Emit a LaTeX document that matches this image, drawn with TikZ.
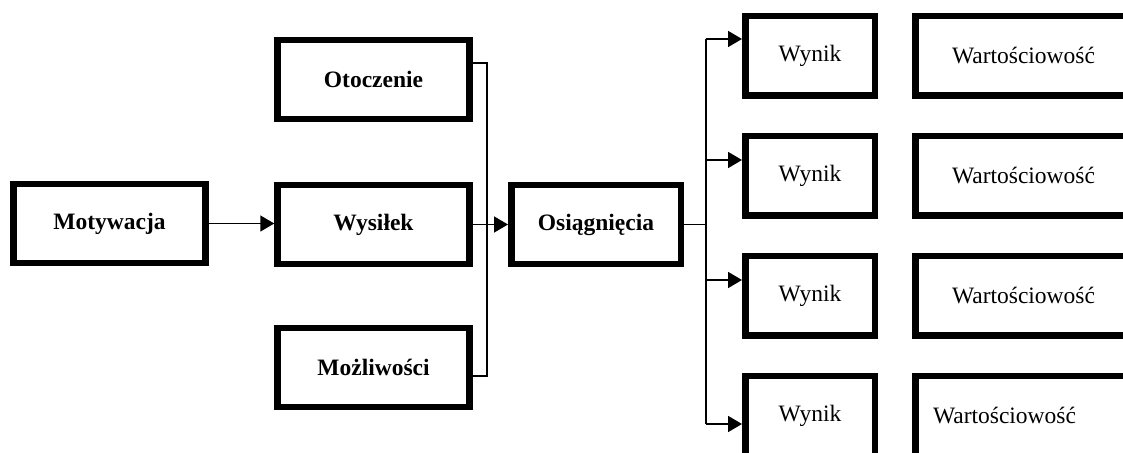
\documentclass[tikz,border=0pt]{standalone}
\usepackage{fontspec}
\setmainfont{Liberation Serif}
\usetikzlibrary{arrows.meta,calc}
\tikzset{
  box/.style={draw, line width=6.5pt, inner sep=0pt, minimum width=192pt, minimum height=79pt,
    font=\fontsize{23.5}{28}\selectfont\bfseries},
  outbox/.style={draw, line width=6.5pt, inner sep=0pt, minimum width=129.5pt, minimum height=79.5pt,
    font=\fontsize{23.5}{28}\selectfont},
  valbox/.style={outbox, minimum width=216.5pt},
  conn/.style={line width=1.6pt},
  arr/.style={conn, -{Triangle[length=14pt,width=16pt]}}
}
\begin{document}
\begin{tikzpicture}[x=1pt, y=1pt, line join=miter]
  \useasboundingbox (0,0) rectangle (1123,452);
  \clip (0,0) rectangle (1123,452);
  % lewa czesc
  \node[box] (Motywacja) at (109.5,228.5) {Motywacja};
  \node[box] (Otoczenie) at (373.5,372.5) {Otoczenie};
  \node[box] (Wysilek) at (373.5,227.5) {Wysiłek};
  \node[box] (Mozliwosci) at (373.5,84.5) {Możliwości};
  \node[box, minimum width=169.5pt] (Osiagniecia) at (596,227.5) {Osiągnięcia};
  \coordinate (lb) at (487,0);
  \coordinate (rb) at (706,0);
  \coordinate (ot) at ($(Otoczenie.east)+(0,16.5)$);
  \coordinate (mo) at ($(Mozliwosci.east)+(0,-8.5)$);
  \draw[arr] (Motywacja.east) -- (Motywacja.east -| Wysilek.west);
  \draw[conn] (ot) -- (ot -| lb) -- (mo -| lb) -- (mo);
  \draw[arr] (Wysilek.east) -- (Wysilek.east -| Osiagniecia.west);
  \draw[conn] (Osiagniecia.east) -- (Osiagniecia.east -| rb);
  % prawa czesc
  \foreach \i/\y/\d in {1/396/17, 2/276/16, 3/156/16, 4/36/-8} {
    \node[outbox] (Wynik\i) at (810,\y) {Wynik};
    \coordinate (w\i) at ($(Wynik\i.west)+(0,\d)$);
    \draw[arr] (w\i -| rb) -- (w\i);
  }
  \foreach \i/\y in {1/396, 2/276, 3/156}
    \node[valbox] (Wart\i) at (1023.5,\y) {Wartościowość};
  \node[valbox] (Wart4) at (1023.5,36) {Wartościowość\hspace*{38pt}};
  \draw[conn] (w1 -| rb) -- (w4 -| rb);
\end{tikzpicture}
\end{document}
